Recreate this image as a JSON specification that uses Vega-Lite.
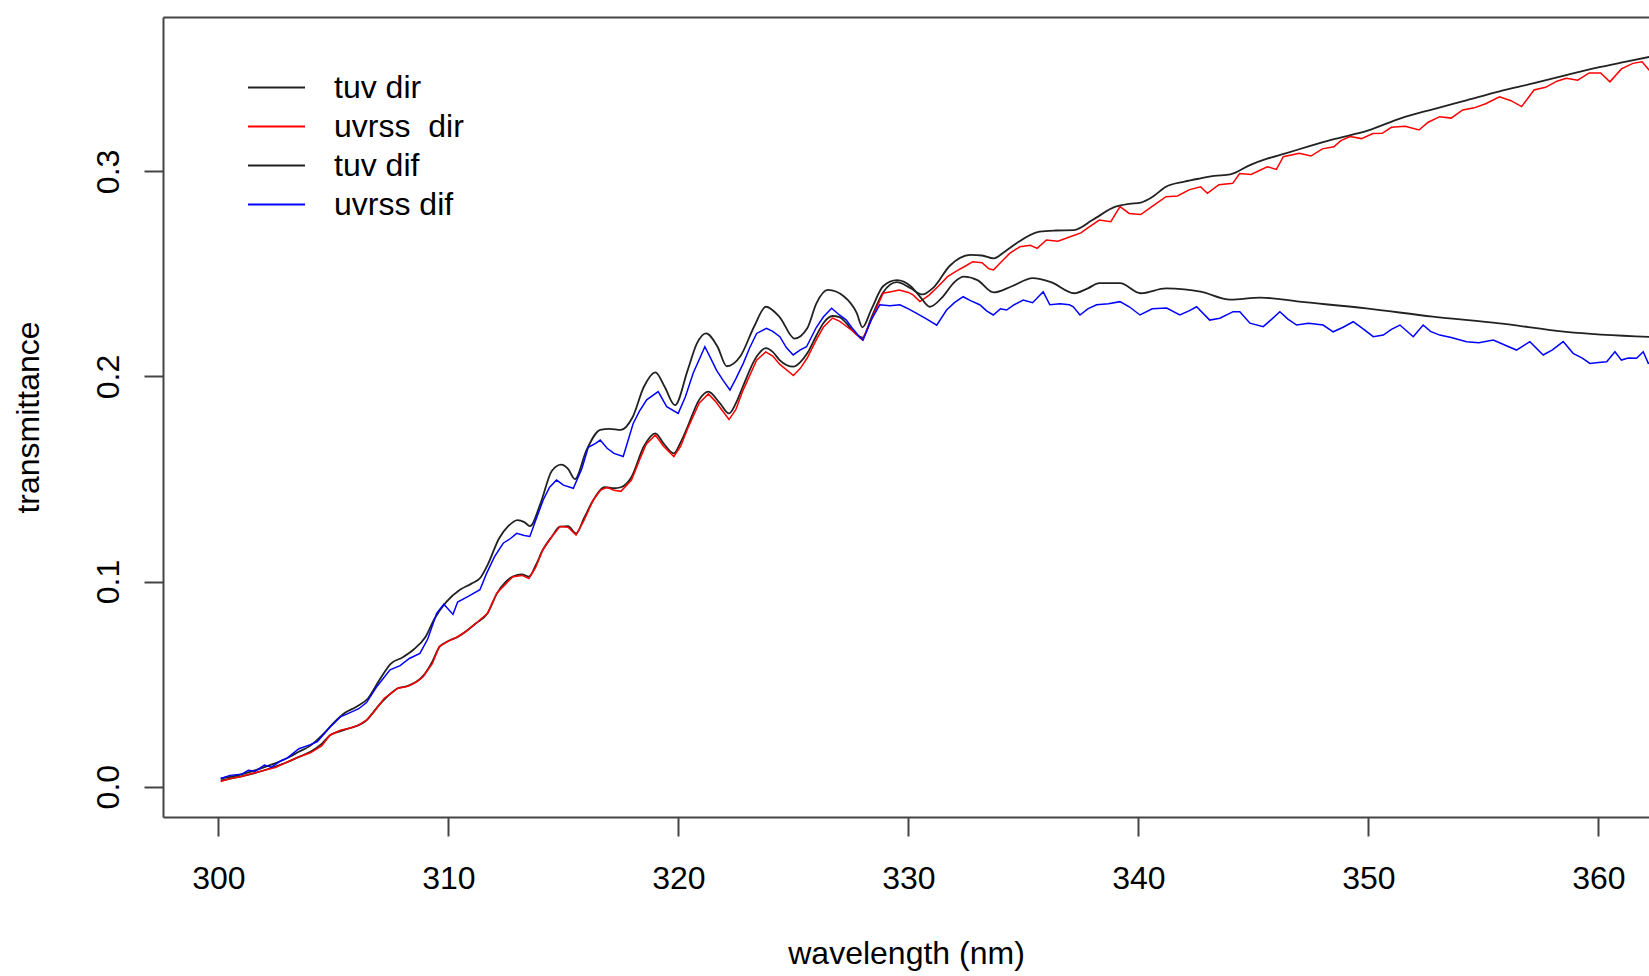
{
  "$schema": "https://vega.github.io/schema/vega-lite/v6.json",
  "autosize": {"type": "none"},
  "padding": {"left": 163, "top": 17, "right": 0, "bottom": 159},
  "width": 1486,
  "height": 800,
  "background": "white",
  "config": {
    "view": {"stroke": null},
    "axis": {"domainColor": "#444", "domainWidth": 2, "tickColor": "#444", "tickWidth": 2, "tickSize": 19, "labelFont": "Liberation Sans", "labelFontSize": 32, "labelColor": "#000", "titleFont": "Liberation Sans", "titleFontSize": 32, "titleFontWeight": "normal", "titleColor": "#000", "grid": false},
    "legend": {"orient": "none", "legendX": 93.5, "legendY": 50.5, "title": null, "symbolType": "M-1.5,0H1.5", "symbolSize": 1444, "symbolStrokeWidth": 2, "labelFont": "Liberation Sans", "labelFontSize": 32, "labelColor": "#000", "labelOffset": 37.5, "rowPadding": 3}
  },
  "resolve": {"axis": {"x": "independent"}},
  "layer": [
    {
      "data": {"values": [
        {"w":300.1,"v":0.003},{"w":301,"v":0.005},{"w":302,"v":0.008},{"w":303,"v":0.012},{"w":303.5,"v":0.0145},{"w":304,"v":0.017},{"w":304.5,"v":0.021},{"w":304.85,"v":0.025},{"w":305.3,"v":0.027},{"w":305.7,"v":0.0285},{"w":306.1,"v":0.030},{"w":306.4,"v":0.032},{"w":307.0,"v":0.040},{"w":307.5,"v":0.0455},{"w":307.8,"v":0.048},{"w":308.2,"v":0.049},{"w":308.9,"v":0.054},{"w":309.3,"v":0.061},{"w":309.6,"v":0.068},{"w":310.0,"v":0.071},{"w":310.4,"v":0.073},{"w":311.2,"v":0.0797},{"w":311.7,"v":0.0845},{"w":312.1,"v":0.094},{"w":312.5,"v":0.100},{"w":312.8,"v":0.1024},{"w":313.2,"v":0.1035},{"w":313.5,"v":0.1024},{"w":313.8,"v":0.108},{"w":314.1,"v":0.1154},{"w":314.5,"v":0.122},{"w":314.85,"v":0.1268},{"w":315.2,"v":0.127},{"w":315.55,"v":0.1235},{"w":315.9,"v":0.131},{"w":316.3,"v":0.1398},{"w":316.8,"v":0.146},{"w":317.2,"v":0.1455},{"w":317.5,"v":0.146},{"w":317.96,"v":0.151},{"w":318.5,"v":0.166},{"w":319.0,"v":0.1723},{"w":319.35,"v":0.1674},{"w":319.8,"v":0.1625},{"w":320.1,"v":0.168},{"w":320.4,"v":0.1755},{"w":320.9,"v":0.1886},{"w":321.3,"v":0.1926},{"w":321.8,"v":0.187},{"w":322.2,"v":0.182},{"w":322.5,"v":0.187},{"w":322.8,"v":0.195},{"w":323.4,"v":0.2097},{"w":323.8,"v":0.2138},{"w":324.1,"v":0.212},{"w":324.4,"v":0.208},{"w":325.0,"v":0.2048},{"w":325.3,"v":0.207},{"w":325.6,"v":0.2113},{"w":326.0,"v":0.220},{"w":326.3,"v":0.226},{"w":326.7,"v":0.2295},{"w":327.0,"v":0.229},{"w":327.3,"v":0.226},{"w":327.6,"v":0.222},{"w":328.0,"v":0.219},{"w":328.4,"v":0.229},{"w":328.9,"v":0.241},{"w":329.5,"v":0.246},{"w":330.1,"v":0.243},{"w":330.6,"v":0.240},{"w":331.1,"v":0.2435},{"w":331.8,"v":0.254},{"w":332.7,"v":0.2593},{"w":333.2,"v":0.259},{"w":333.7,"v":0.2576},{"w":334.2,"v":0.261},{"w":334.7,"v":0.265},{"w":335.7,"v":0.2706},{"w":336.4,"v":0.2712},{"w":337.2,"v":0.2714},{"w":338.0,"v":0.2763},{"w":339.0,"v":0.2828},{"w":339.6,"v":0.2842},{"w":340.1,"v":0.2848},{"w":340.6,"v":0.2875},{"w":341.2,"v":0.2925},{"w":342.0,"v":0.2950},{"w":342.7,"v":0.2966},{"w":343.3,"v":0.2978},{"w":344.0,"v":0.2986},{"w":344.85,"v":0.3031},{"w":345.6,"v":0.3062},{"w":346.4,"v":0.3088},{"w":347.4,"v":0.3122},{"w":348.5,"v":0.3157},{"w":350.0,"v":0.3200},{"w":351.4,"v":0.3259},{"w":352.8,"v":0.3303},{"w":354.3,"v":0.3348},{"w":355.7,"v":0.3390},{"w":357.2,"v":0.3430},{"w":358.6,"v":0.3470},{"w":360.1,"v":0.3510},{"w":361.2,"v":0.3535},{"w":362.5,"v":0.3565}
      ]},
      "mark": {"type": "line", "strokeWidth": 1.8, "clip": true, "interpolate": "monotone"},
      "encoding": {
        "x": {"field": "w", "type": "quantitative", "scale": {"domain": [297.59, 362.2], "nice": false, "zero": false},
              "axis": {"values": [300, 310, 320, 330, 340, 350, 360], "labelPadding": 27, "title": "wavelength (nm)", "titleBaseline": "alphabetic", "titleY": 146}},
        "y": {"field": "v", "type": "quantitative", "scale": {"domain": [-0.0148, 0.3753], "nice": false, "zero": false},
              "axis": {"values": [0, 0.1, 0.2, 0.3], "format": ".1f", "labelAngle": 270, "labelAlign": "center", "labelBaseline": "alphabetic", "labelPadding": 26, "title": "transmittance", "titleAngle": 270, "titleAlign": "center", "titleBaseline": "alphabetic", "titleX": -125, "titleY": 400}},
        "color": {"datum": "tuv dir", "type": "nominal", "scale": {"domain": ["tuv dir", "uvrss\u00a0 dir", "tuv dif", "uvrss dif"], "range": ["#222222", "#ff0000", "#222222", "#0000ff"]}}
      }
    },
    {
      "data": {"values": [
        {"w":300.1,"v":0.0025},{"w":300.5,"v":0.004},{"w":301,"v":0.005},{"w":301.5,"v":0.0065},{"w":302,"v":0.008},{"w":302.5,"v":0.0095},{"w":303,"v":0.012},{"w":303.5,"v":0.0145},{"w":304,"v":0.0165},{"w":304.5,"v":0.020},{"w":304.85,"v":0.0252},{"w":305.3,"v":0.0275},{"w":305.7,"v":0.0285},{"w":306.1,"v":0.030},{"w":306.45,"v":0.0325},{"w":306.8,"v":0.037},{"w":307.2,"v":0.043},{"w":307.5,"v":0.0455},{"w":307.8,"v":0.048},{"w":308.2,"v":0.0488},{"w":308.6,"v":0.051},{"w":308.9,"v":0.0536},{"w":309.3,"v":0.060},{"w":309.6,"v":0.0683},{"w":310.0,"v":0.071},{"w":310.4,"v":0.0731},{"w":310.8,"v":0.076},{"w":311.2,"v":0.0797},{"w":311.7,"v":0.0845},{"w":312.1,"v":0.0943},{"w":312.5,"v":0.099},{"w":312.8,"v":0.1024},{"w":313.2,"v":0.103},{"w":313.5,"v":0.1015},{"w":313.8,"v":0.107},{"w":314.1,"v":0.1154},{"w":314.5,"v":0.122},{"w":314.85,"v":0.1268},{"w":315.2,"v":0.1265},{"w":315.55,"v":0.1227},{"w":315.9,"v":0.130},{"w":316.3,"v":0.1398},{"w":316.6,"v":0.1445},{"w":316.9,"v":0.146},{"w":317.2,"v":0.1445},{"w":317.5,"v":0.1440},{"w":317.96,"v":0.1495},{"w":318.3,"v":0.159},{"w":318.6,"v":0.167},{"w":319.0,"v":0.1715},{"w":319.35,"v":0.166},{"w":319.8,"v":0.1610},{"w":320.1,"v":0.166},{"w":320.4,"v":0.1745},{"w":320.9,"v":0.187},{"w":321.3,"v":0.1915},{"w":321.6,"v":0.188},{"w":321.8,"v":0.185},{"w":322.2,"v":0.179},{"w":322.5,"v":0.184},{"w":322.8,"v":0.193},{"w":323.4,"v":0.208},{"w":323.8,"v":0.212},{"w":324.1,"v":0.210},{"w":324.4,"v":0.206},{"w":325.0,"v":0.2005},{"w":325.3,"v":0.204},{"w":325.6,"v":0.209},{"w":326.0,"v":0.218},{"w":326.3,"v":0.224},{"w":326.7,"v":0.2285},{"w":327.0,"v":0.227},{"w":327.3,"v":0.2245},{"w":327.6,"v":0.222},{"w":328.0,"v":0.2178},{"w":328.4,"v":0.228},{"w":328.9,"v":0.2406},{"w":329.3,"v":0.2415},{"w":329.6,"v":0.2422},{"w":330.0,"v":0.241},{"w":330.2,"v":0.2398},{"w":330.5,"v":0.2365},{"w":330.9,"v":0.2397},{"w":331.3,"v":0.244},{"w":331.7,"v":0.2487},{"w":332.1,"v":0.2515},{"w":332.5,"v":0.254},{"w":332.8,"v":0.256},{"w":333.2,"v":0.2555},{"w":333.5,"v":0.2525},{"w":333.7,"v":0.2520},{"w":334.0,"v":0.2555},{"w":334.4,"v":0.260},{"w":334.85,"v":0.2633},{"w":335.3,"v":0.2640},{"w":335.6,"v":0.2625},{"w":336.0,"v":0.2666},{"w":336.5,"v":0.2660},{"w":337.0,"v":0.2680},{"w":337.5,"v":0.2700},{"w":337.8,"v":0.2725},{"w":338.3,"v":0.2763},{"w":338.8,"v":0.2755},{"w":339.2,"v":0.2828},{"w":339.6,"v":0.2795},{"w":340.1,"v":0.2790},{"w":340.6,"v":0.2830},{"w":341.2,"v":0.2877},{"w":341.7,"v":0.2880},{"w":342.2,"v":0.2910},{"w":342.7,"v":0.2925},{"w":343.0,"v":0.2893},{"w":343.5,"v":0.2935},{"w":344.1,"v":0.2942},{"w":344.4,"v":0.2990},{"w":344.9,"v":0.2985},{"w":345.6,"v":0.3023},{"w":346.0,"v":0.3010},{"w":346.3,"v":0.3072},{"w":347.0,"v":0.3088},{"w":347.5,"v":0.3075},{"w":348.0,"v":0.3110},{"w":348.5,"v":0.3120},{"w":348.8,"v":0.3150},{"w":349.2,"v":0.3170},{"w":349.7,"v":0.3160},{"w":350.2,"v":0.3185},{"w":350.6,"v":0.3186},{"w":351.0,"v":0.3215},{"w":351.6,"v":0.3220},{"w":352.2,"v":0.3202},{"w":352.6,"v":0.3240},{"w":353.1,"v":0.3267},{"w":353.6,"v":0.3260},{"w":354.1,"v":0.3300},{"w":354.6,"v":0.3310},{"w":355.1,"v":0.3330},{"w":355.7,"v":0.3364},{"w":356.2,"v":0.3345},{"w":356.66,"v":0.3316},{"w":357.2,"v":0.3397},{"w":357.7,"v":0.3410},{"w":358.2,"v":0.3440},{"w":358.6,"v":0.3454},{"w":359.1,"v":0.3445},{"w":359.6,"v":0.3480},{"w":360.1,"v":0.3480},{"w":360.5,"v":0.3437},{"w":361.0,"v":0.3500},{"w":361.5,"v":0.3527},{"w":361.9,"v":0.3535},{"w":362.2,"v":0.3495},{"w":362.5,"v":0.352}
      ]},
      "mark": {"type": "line", "strokeWidth": 1.5, "clip": true},
      "encoding": {
        "x": {"field": "w", "type": "quantitative", "axis": null},
        "y": {"field": "v", "type": "quantitative"},
        "color": {"datum": "uvrss\u00a0 dir", "type": "nominal"}
      }
    },
    {
      "data": {"values": [
        {"w":300.1,"v":0.004},{"w":301,"v":0.006},{"w":302,"v":0.0095},{"w":303,"v":0.014},{"w":303.5,"v":0.017},{"w":304,"v":0.02},{"w":304.5,"v":0.025},{"w":305,"v":0.031},{"w":305.5,"v":0.036},{"w":306,"v":0.039},{"w":306.5,"v":0.043},{"w":307,"v":0.052},{"w":307.5,"v":0.060},{"w":308,"v":0.063},{"w":308.5,"v":0.067},{"w":309,"v":0.073},{"w":309.4,"v":0.082},{"w":309.9,"v":0.090},{"w":310.5,"v":0.096},{"w":311,"v":0.099},{"w":311.4,"v":0.102},{"w":311.7,"v":0.108},{"w":312.2,"v":0.121},{"w":312.6,"v":0.127},{"w":313.0,"v":0.130},{"w":313.3,"v":0.129},{"w":313.55,"v":0.127},{"w":314.0,"v":0.138},{"w":314.5,"v":0.154},{"w":314.9,"v":0.157},{"w":315.2,"v":0.155},{"w":315.5,"v":0.150},{"w":316.0,"v":0.164},{"w":316.6,"v":0.174},{"w":317.0,"v":0.1745},{"w":317.5,"v":0.174},{"w":318.0,"v":0.180},{"w":318.5,"v":0.195},{"w":319.0,"v":0.202},{"w":319.4,"v":0.195},{"w":319.85,"v":0.186},{"w":320.4,"v":0.203},{"w":320.8,"v":0.216},{"w":321.2,"v":0.221},{"w":321.7,"v":0.2145},{"w":322.1,"v":0.205},{"w":322.7,"v":0.210},{"w":323.3,"v":0.2245},{"w":323.8,"v":0.234},{"w":324.4,"v":0.229},{"w":325.05,"v":0.2185},{"w":325.6,"v":0.2235},{"w":326.0,"v":0.2357},{"w":326.5,"v":0.2422},{"w":327.2,"v":0.239},{"w":327.75,"v":0.231},{"w":328.0,"v":0.224},{"w":328.4,"v":0.233},{"w":328.9,"v":0.244},{"w":329.5,"v":0.247},{"w":330.1,"v":0.244},{"w":330.5,"v":0.239},{"w":330.93,"v":0.234},{"w":331.5,"v":0.239},{"w":332.0,"v":0.246},{"w":332.4,"v":0.2487},{"w":333.0,"v":0.247},{"w":333.7,"v":0.241},{"w":334.5,"v":0.244},{"w":335.4,"v":0.248},{"w":336.2,"v":0.246},{"w":337.2,"v":0.2406},{"w":337.8,"v":0.243},{"w":338.3,"v":0.2455},{"w":339.2,"v":0.2455},{"w":340.1,"v":0.2406},{"w":341.2,"v":0.243},{"w":342.0,"v":0.2425},{"w":342.7,"v":0.2414},{"w":344.0,"v":0.2375},{"w":345.3,"v":0.2385},{"w":347.0,"v":0.2365},{"w":349.9,"v":0.2332},{"w":352.8,"v":0.2292},{"w":355.7,"v":0.2259},{"w":358.6,"v":0.2218},{"w":362.5,"v":0.2192}
      ]},
      "mark": {"type": "line", "strokeWidth": 1.8, "clip": true, "interpolate": "monotone"},
      "encoding": {
        "x": {"field": "w", "type": "quantitative", "axis": null},
        "y": {"field": "v", "type": "quantitative"},
        "color": {"datum": "tuv dif", "type": "nominal"}
      }
    },
    {
      "data": {"values": [
        {"w":300.1,"v":0.004},{"w":300.5,"v":0.0055},{"w":301,"v":0.006},{"w":301.3,"v":0.008},{"w":301.6,"v":0.0075},{"w":302.0,"v":0.0105},{"w":302.3,"v":0.0095},{"w":302.7,"v":0.0125},{"w":303.0,"v":0.014},{"w":303.5,"v":0.0185},{"w":304.0,"v":0.0205},{"w":304.3,"v":0.022},{"w":304.85,"v":0.029},{"w":305.3,"v":0.034},{"w":305.7,"v":0.036},{"w":306.1,"v":0.038},{"w":306.44,"v":0.041},{"w":306.9,"v":0.049},{"w":307.46,"v":0.057},{"w":307.9,"v":0.059},{"w":308.3,"v":0.0625},{"w":308.76,"v":0.065},{"w":309.1,"v":0.072},{"w":309.49,"v":0.0845},{"w":309.8,"v":0.089},{"w":310.2,"v":0.084},{"w":310.4,"v":0.090},{"w":310.9,"v":0.093},{"w":311.37,"v":0.096},{"w":311.66,"v":0.104},{"w":312.0,"v":0.112},{"w":312.38,"v":0.1187},{"w":312.7,"v":0.121},{"w":312.97,"v":0.1235},{"w":313.3,"v":0.1225},{"w":313.54,"v":0.122},{"w":313.8,"v":0.130},{"w":314.12,"v":0.1398},{"w":314.4,"v":0.146},{"w":314.7,"v":0.1495},{"w":315.0,"v":0.147},{"w":315.43,"v":0.1455},{"w":315.8,"v":0.155},{"w":316.08,"v":0.1655},{"w":316.4,"v":0.1674},{"w":316.6,"v":0.169},{"w":316.9,"v":0.165},{"w":317.2,"v":0.1625},{"w":317.6,"v":0.161},{"w":318.03,"v":0.177},{"w":318.3,"v":0.183},{"w":318.62,"v":0.1886},{"w":319.12,"v":0.1926},{"w":319.49,"v":0.1853},{"w":319.99,"v":0.182},{"w":320.3,"v":0.190},{"w":320.64,"v":0.2016},{"w":321.15,"v":0.2145},{"w":321.4,"v":0.209},{"w":321.66,"v":0.203},{"w":321.95,"v":0.198},{"w":322.24,"v":0.1934},{"w":322.5,"v":0.199},{"w":322.82,"v":0.2064},{"w":323.1,"v":0.214},{"w":323.4,"v":0.221},{"w":323.83,"v":0.2235},{"w":324.1,"v":0.222},{"w":324.41,"v":0.2194},{"w":324.7,"v":0.214},{"w":324.99,"v":0.2105},{"w":325.3,"v":0.213},{"w":325.57,"v":0.2145},{"w":326.0,"v":0.224},{"w":326.3,"v":0.229},{"w":326.66,"v":0.2333},{"w":327.0,"v":0.230},{"w":327.3,"v":0.2275},{"w":327.6,"v":0.223},{"w":327.89,"v":0.219},{"w":328.03,"v":0.2178},{"w":328.4,"v":0.228},{"w":328.76,"v":0.235},{"w":329.2,"v":0.2345},{"w":329.63,"v":0.235},{"w":330.0,"v":0.233},{"w":330.36,"v":0.2308},{"w":330.8,"v":0.228},{"w":331.23,"v":0.225},{"w":331.66,"v":0.2324},{"w":332.0,"v":0.236},{"w":332.38,"v":0.2389},{"w":332.7,"v":0.237},{"w":333.1,"v":0.235},{"w":333.4,"v":0.232},{"w":333.69,"v":0.230},{"w":334.0,"v":0.233},{"w":334.27,"v":0.2324},{"w":334.6,"v":0.235},{"w":334.99,"v":0.2373},{"w":335.4,"v":0.236},{"w":335.86,"v":0.2413},{"w":336.15,"v":0.235},{"w":336.6,"v":0.2355},{"w":337.0,"v":0.235},{"w":337.17,"v":0.234},{"w":337.46,"v":0.230},{"w":337.8,"v":0.233},{"w":338.18,"v":0.235},{"w":338.7,"v":0.2355},{"w":339.2,"v":0.2365},{"w":339.6,"v":0.234},{"w":340.07,"v":0.230},{"w":340.6,"v":0.233},{"w":341.23,"v":0.2334},{"w":341.8,"v":0.230},{"w":342.2,"v":0.232},{"w":342.53,"v":0.234},{"w":343.1,"v":0.2275},{"w":343.54,"v":0.2284},{"w":344.12,"v":0.2316},{"w":344.41,"v":0.2316},{"w":344.85,"v":0.226},{"w":345.43,"v":0.2243},{"w":345.8,"v":0.228},{"w":346.15,"v":0.2316},{"w":346.5,"v":0.228},{"w":346.88,"v":0.2251},{"w":347.4,"v":0.226},{"w":348.03,"v":0.2251},{"w":348.47,"v":0.2218},{"w":348.9,"v":0.224},{"w":349.34,"v":0.2267},{"w":349.8,"v":0.223},{"w":350.21,"v":0.2194},{"w":350.65,"v":0.2202},{"w":351.0,"v":0.223},{"w":351.37,"v":0.2251},{"w":351.95,"v":0.2194},{"w":352.38,"v":0.2251},{"w":352.7,"v":0.222},{"w":353.1,"v":0.2202},{"w":353.6,"v":0.219},{"w":354.27,"v":0.217},{"w":354.8,"v":0.2165},{"w":355.43,"v":0.2178},{"w":356.0,"v":0.215},{"w":356.44,"v":0.2129},{"w":357.02,"v":0.217},{"w":357.6,"v":0.2105},{"w":358.0,"v":0.213},{"w":358.47,"v":0.217},{"w":358.9,"v":0.2113},{"w":359.3,"v":0.209},{"w":359.63,"v":0.2064},{"w":360.0,"v":0.2068},{"w":360.36,"v":0.2072},{"w":360.72,"v":0.2121},{"w":361.0,"v":0.208},{"w":361.3,"v":0.209},{"w":361.66,"v":0.2089},{"w":361.95,"v":0.2121},{"w":362.17,"v":0.2064},{"w":362.5,"v":0.207}
      ]},
      "mark": {"type": "line", "strokeWidth": 1.5, "clip": true},
      "encoding": {
        "x": {"field": "w", "type": "quantitative", "axis": {"orient": "top", "labels": false, "ticks": false, "title": null}},
        "y": {"field": "v", "type": "quantitative"},
        "color": {"datum": "uvrss dif", "type": "nominal"}
      }
    }
  ]
}
